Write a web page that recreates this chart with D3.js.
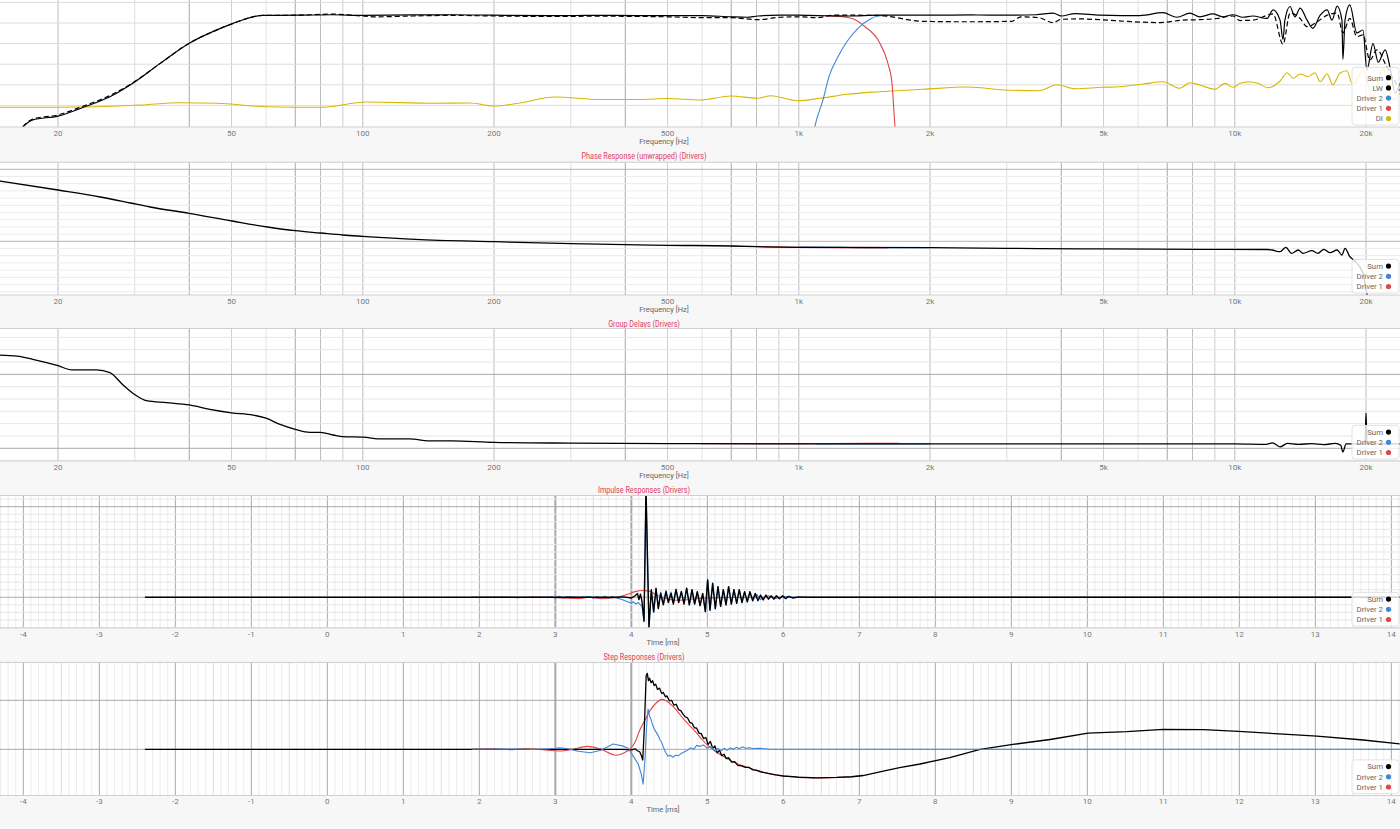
<!DOCTYPE html>
<html>
<head>
<meta charset="utf-8">
<script src="https://cdn.jsdelivr.net/npm/d3@7"></script>
<style>
  body { margin: 0; background: #f7f7f7; font-family: Roboto, "Noto Sans", sans-serif; }
</style>
</head>
<body>
<div id="chart"></div>
<script>
// ---- data (frequency in Hz, time in ms) ----
const freqTicks = [20, 50, 100, 200, 500, 1000, 2000, 5000, 10000, 20000];
const timeTicks = [-4, -3, -2, -1, 0, 1, 2, 3, 4, 5, 6, 7, 8, 9, 10, 11, 12, 13, 14];
const titles = ["Phase Response (unwrapped) (Drivers)", "Group Delays (Drivers)",
  "Impulse Responses (Drivers)", "Step Responses (Drivers)"];

// magnitude [Hz, dB]
const sumMag = [[16.6, 59.8], [17.5, 61.5], [20, 62.4], [22.8, 64.5], [26.3, 67.1], [30.1, 70.8],
  [34.3, 75.2], [40, 80.1], [45.3, 82.9], [50.4, 84.9], [56, 86.5], [59, 86.85], [72, 86.9],
  [85, 87.0], [100, 86.85], [130, 86.95], [160, 87.0], [200, 86.9], [270, 86.8], [350, 86.85],
  [430, 86.8], [500, 86.8], [600, 86.8], [700, 86.5], [760, 86.4], [806, 86.7], [905, 86.9],
  [1000, 86.9], [1100, 86.8], [1200, 86.75], [1300, 86.7], [1530, 86.9], [2000, 86.9],
  [2500, 86.95], [3000, 86.9], [3500, 87.0], [3830, 87.4], [4000, 86.7], [4300, 87.3],
  [4900, 86.9], [5500, 86.8], [6060, 86.8], [6840, 87.5], [7370, 86.4], [7890, 87.4],
  [8310, 86.5], [8910, 87.2], [9390, 86.5], [9900, 87.0], [10440, 86.4], [11000, 86.7],
  [11850, 86.1], [12240, 88.2], [12700, 85.7], [12900, 81.0], [13030, 85.7], [13390, 89.0],
  [13740, 86.5], [14120, 88.6], [14650, 85.7], [15100, 83.7], [15700, 86.9], [16290, 88.2],
  [16710, 85.7], [17170, 89.1], [17610, 85.7], [17700, 76.2], [17900, 85.7], [18360, 89.4],
  [19050, 82.6], [19680, 83.3], [20090, 73.6], [20750, 80.0], [21330, 75.5], [22130, 78.5],
  [22690, 74.3], [23330, 68.0], [23930, 70.4]];
const lwMag = [[16.6, 59.8], [17.5, 61.7], [20, 62.7], [22.8, 64.8], [26.3, 67.4], [30.1, 70.9],
  [34.3, 75.2], [40, 80.1], [45.3, 82.9], [50.4, 84.9], [56, 86.5], [59, 86.85], [72, 86.9],
  [80, 87.1], [85, 87.15], [100, 86.7], [108, 86.5], [130, 86.7], [160, 86.85], [200, 86.7],
  [270, 86.6], [350, 86.65], [430, 86.6], [500, 86.5], [600, 86.3], [700, 86.3], [806, 85.8],
  [905, 86.4], [1000, 86.5], [1100, 86.3], [1200, 86.9], [1300, 86.9], [1530, 86.8],
  [1930, 85.4], [2440, 85.3], [3080, 85.4], [3230, 86.5], [3550, 86.3], [3830, 85.1],
  [4000, 85.9], [4415, 86.0], [4900, 85.8], [5840, 85.3], [6740, 85.1], [7600, 85.7],
  [8300, 85.8], [9100, 86.1], [9900, 86.7], [10280, 85.6], [11000, 85.7], [12240, 87.2],
  [12900, 79.8], [13390, 87.4], [14120, 86.1], [14650, 84.1], [15450, 85.3], [16290, 86.9],
  [17170, 87.4], [17700, 82.6], [18360, 86.1], [19050, 81.7], [19680, 82.1], [20410, 76.0],
  [21180, 78.5], [22330, 74.3], [23930, 68.5]];
const driver1Mag = [[1150, 86.7], [1230, 86.6], [1324, 86.1],
  [1419, 84.1], [1527, 80.5], [1601, 75.2], [1636, 70.4], [1662, 60.0], [1680, 56.0]];
const driver2Mag = [[1075, 57.0], [1089, 60.0], [1136, 66.3], [1173, 72.0], [1230, 76.8],
  [1290, 80.5], [1367, 83.7], [1456, 85.9], [1527, 86.75], [1600, 86.8]];
// directivity index [Hz, dB]
const diMag = [[14.72, 0.05], [20, 0.05], [30.9, 0.6], [38.1, 1.17], [46.3, 1.02], [60.3, 0.19],
  [79.8, 0.05], [102, 1.33], [145, 1.02], [176, 1.09], [200, 0.36], [229, 1.09], [276, 2.55],
  [350, 1.94], [432, 1.94], [500, 2.18], [594, 1.82], [699, 2.79], [806, 2.23], [863, 2.86],
  [995, 1.65], [1119, 2.23], [1290, 3.2], [1527, 3.83], [1927, 4.42], [2444, 4.98],
  [2956, 4.25], [3555, 4.08], [3910, 5.53], [4301, 4.56], [4960, 4.9], [5455, 5.05],
  [6161, 5.7], [6839, 6.26], [7481, 4.66], [7887, 6.02], [8315, 5.46], [9004, 4.42],
  [9500, 5.87], [9907, 4.9], [10277, 5.87], [10827, 6.26], [11296, 5.87], [11910, 4.81],
  [12703, 6.43], [13182, 8.45], [13612, 7.09], [14122, 8.13], [14720, 7.48], [15272, 8.45],
  [15699, 6.26], [16289, 8.13], [16785, 5.46], [17414, 8.3], [18067, 8.93], [18661, 5.46],
  [19675, 9.1], [20745, 2.62], [21873, 9.51], [23063, 1.82], [23928, 3.52]];

// phase [Hz, deg]
const sumPhase = [[14.72, 301.5], [20, 256.5], [25, 221.5], [29.3, 191.5], [32.5, 171.5],
  [40, 140], [50.2, 101.5], [60.5, 71.5], [70, 53], [80, 41.5], [90, 31.5], [100, 25],
  [132, 10], [200, -2], [300, -12], [400, -17], [500, -20], [700, -23.5], [800, -27],
  [1000, -30], [2000, -32], [3000, -35], [3600, -37], [5000, -38], [8300, -40], [11900, -41],
  [12170, -43.5], [12700, -52], [13100, -30], [13490, -60], [13980, -43.5], [14330, -60],
  [15030, -47], [15510, -60], [16010, -40], [16530, -57], [17170, -43.5], [17610, -68.5],
  [17900, -35], [18360, -77], [18830, -97], [19680, -160], [20090, -260], [20400, -310]];
const driver1Phase = [[700, -23.5], [1000, -30], [1400, -32.5], [1600, -33]];
const driver2Phase = [[1000, -29], [1300, -31], [1500, -32], [2000, -32]];

// group delay [Hz, ms]
const sumGd = [[14.72, 37.8], [16.1, 37.4], [17.5, 36.1], [20, 33.5], [21.5, 31.8], [24.5, 31.8],
  [26.3, 30.7], [28.2, 25.7], [30.1, 21.6], [31.9, 19.3], [35.5, 18.5], [40, 17.6], [44.6, 15.8],
  [50, 14.4], [56, 13.5], [60, 12.2], [64.6, 9.7], [70, 7.7], [75.7, 6.5], [80, 6.5], [85.6, 5.4],
  [90, 4.7], [100, 4.5], [111, 3.8], [128, 3.8], [142, 3.0], [160, 3.0], [200, 2.4], [300, 2.1],
  [500, 1.9], [1000, 1.8], [2000, 1.8], [5000, 1.8], [10000, 1.8], [11800, 1.6], [12200, 2.2],
  [12700, 0.6], [13200, 2.0], [14000, 1.6], [15000, 1.9], [16000, 1.5], [17000, 2.0],
  [17500, 1.2], [17700, -1.5], [18000, 1.8], [19000, 1.8], [19900, 1.8], [20000, 14.3],
  [20100, 1.8], [23930, 1.8]];
const driver1Gd = [[600, 1.9], [1000, 1.9], [1400, 2.0], [1700, 2.0]];
const driver2Gd = [[1100, 1.8], [1500, 1.8], [2000, 1.8]];

// impulse responses [ms, norm]
const sumImpulse = [[-2.4, 0], [3.8, 0], [3.9, 0.005], [4.0, -0.01], [4.05, 0.02], [4.08, 0.05],
  [4.1, -0.03], [4.12, 0.04], [4.14, -0.05], [4.167, -0.32], [4.193, 1.45], [4.232, -0.39],
  [4.263, 0.10], [4.294, -0.19], [4.325, 0.12], [4.355, -0.15], [4.386, 0.05], [4.421, -0.10],
  [4.456, 0.075], [4.487, -0.07], [4.522, 0.05], [4.553, -0.09], [4.588, 0.10], [4.623, -0.07],
  [4.658, 0.075], [4.693, -0.09], [4.728, 0.12], [4.763, -0.10], [4.798, 0.10], [4.833, -0.09],
  [4.868, 0.075], [4.904, -0.11], [4.939, 0.05], [4.974, -0.19], [5.004, 0.23], [5.035, -0.17],
  [5.07, 0.185], [5.105, -0.15], [5.14, 0.14], [5.175, -0.12], [5.21, 0.10], [5.246, -0.10],
  [5.28, 0.14], [5.316, -0.09], [5.35, 0.10], [5.386, -0.08], [5.42, 0.10], [5.456, -0.07],
  [5.49, 0.075], [5.526, -0.06], [5.56, 0.075], [5.596, -0.045], [5.63, 0.05], [5.666, -0.045],
  [5.70, 0.03], [5.735, -0.035], [5.77, 0.03], [5.805, -0.025], [5.84, 0.02], [5.875, -0.025],
  [5.91, 0.02], [5.95, -0.02], [5.99, 0.02], [6.03, -0.018], [6.07, 0.012], [6.13, -0.01],
  [6.2, 0.005], [6.3, 0], [14.11, 0]];
const driver2Impulse = [[1.9, 0], [2.9, 0], [2.95, 0.01], [3.0, -0.008], [3.05, 0.012], [3.1, -0.01],
  [3.15, 0.008], [3.3, 0], [3.45, 0.008], [3.5, -0.012], [3.55, 0.01], [3.6, -0.012], [3.65, 0.012],
  [3.7, -0.01], [3.75, 0.008], [3.8, -0.01], [3.85, -0.02], [3.9, -0.04], [3.95, -0.06],
  [4.0, -0.08], [4.03, -0.06], [4.06, -0.09], [4.09, -0.07], [4.12, -0.10], [4.14, -0.12],
  [4.167, -0.30], [4.193, 1.40], [4.232, -0.40], [4.263, 0.08], [4.294, -0.20], [4.325, 0.11],
  [4.355, -0.14], [4.386, 0.07], [4.421, -0.08], [4.456, 0.09], [4.487, -0.05], [4.522, 0.07],
  [4.553, -0.07], [4.588, 0.11], [4.623, -0.06], [4.658, 0.08], [4.693, -0.08], [4.728, 0.12],
  [4.763, -0.10], [4.798, 0.10], [4.833, -0.09], [4.868, 0.07], [4.904, -0.11], [4.939, 0.05],
  [4.974, -0.19], [5.004, 0.23], [5.035, -0.17], [5.07, 0.18], [5.105, -0.15], [5.14, 0.14],
  [5.175, -0.12], [5.21, 0.10], [5.246, -0.10], [5.28, 0.14], [5.316, -0.09], [5.35, 0.10],
  [5.386, -0.08], [5.42, 0.10], [5.456, -0.07], [5.49, 0.07], [5.526, -0.06], [5.56, 0.07],
  [5.6, -0.04], [5.65, 0.04], [5.7, -0.03], [5.8, 0.02], [5.9, -0.015], [6.0, 0.01], [6.2, 0],
  [14.11, 0]];
const driver1Impulse = [[1.9, 0], [2.3, 0.004], [2.5, -0.004], [2.7, 0.004], [2.9, 0], [3.1, -0.01],
  [3.3, -0.015], [3.45, 0], [3.6, -0.02], [3.75, -0.01], [3.85, 0.01], [3.95, 0.04], [4.05, 0.075],
  [4.15, 0.09], [4.22, 0.085], [4.3, 0.05], [4.4, 0.0], [4.5, -0.03], [4.6, -0.04], [4.7, -0.035],
  [4.85, -0.02], [5.0, -0.01], [5.2, -0.005], [5.5, 0], [14.11, 0]];

// step responses [ms, norm]
const sumStep = [[-2.4, 0], [3.9, 0], [4.0, -0.01], [4.05, 0.01], [4.08, -0.03], [4.11, -0.05],
  [4.13, -0.12], [4.15, -0.22], [4.17, 0.4], [4.195, 1.50], [4.21, 1.55], [4.225, 1.40],
  [4.24, 1.45], [4.26, 1.36], [4.28, 1.40], [4.30, 1.30], [4.32, 1.33], [4.345, 1.22],
  [4.37, 1.25], [4.40, 1.14], [4.42, 1.16], [4.45, 1.07], [4.47, 1.09], [4.50, 0.99],
  [4.53, 1.00], [4.56, 0.90], [4.59, 0.92], [4.62, 0.81], [4.65, 0.79], [4.68, 0.72],
  [4.71, 0.66], [4.74, 0.64], [4.77, 0.55], [4.80, 0.53], [4.83, 0.44], [4.86, 0.43],
  [4.89, 0.33], [4.92, 0.32], [4.95, 0.22], [4.98, 0.24], [5.01, 0.10], [5.04, 0.16],
  [5.07, 0.02], [5.10, 0.07], [5.13, -0.07], [5.16, -0.02], [5.19, -0.13], [5.22, -0.10],
  [5.25, -0.19], [5.28, -0.17], [5.32, -0.26], [5.36, -0.25], [5.40, -0.33], [5.45, -0.34],
  [5.50, -0.37], [5.55, -0.37], [5.60, -0.42], [5.65, -0.43], [5.70, -0.46], [5.80, -0.49],
  [5.90, -0.52], [6.0, -0.545], [6.2, -0.57], [6.45, -0.585], [6.7, -0.575], [6.9, -0.56],
  [7.05, -0.535], [7.3, -0.45], [7.53, -0.375], [7.8, -0.30], [8.19, -0.17], [8.59, 0.0],
  [9.02, 0.10], [9.51, 0.20], [10.01, 0.33], [10.52, 0.36], [11.0, 0.405], [11.53, 0.40],
  [12.05, 0.36], [12.58, 0.31], [13.02, 0.27], [13.63, 0.19], [14.11, 0.11]];
const driver1Step = [[1.9, 0], [2.2, 0.01], [2.4, -0.01], [2.6, 0.012], [2.75, 0], [2.9, -0.02],
  [3.05, -0.035], [3.2, -0.01], [3.42, 0.06], [3.6, 0.0], [3.8, -0.12], [3.92, -0.06],
  [3.98, 0.0], [4.05, 0.15], [4.11, 0.39], [4.18, 0.6], [4.25, 0.8], [4.33, 0.95], [4.4, 1.02],
  [4.47, 0.98], [4.55, 0.87], [4.62, 0.75], [4.68, 0.63], [4.77, 0.48], [4.86, 0.33],
  [4.93, 0.2], [5.0, 0.09], [5.07, 0.0], [5.13, -0.07], [5.24, -0.17], [5.35, -0.265],
  [5.46, -0.33], [5.57, -0.39], [5.68, -0.44], [5.79, -0.49], [6.0, -0.545], [6.2, -0.57],
  [6.45, -0.585], [6.7, -0.575], [6.9, -0.56], [7.05, -0.535]];
const driver2Step = [[1.9, 0], [2.5, 0.005], [2.7, -0.005], [2.9, 0.008], [3.0, 0.02], [3.05, 0.03],
  [3.15, 0.015], [3.3, -0.04], [3.46, -0.07], [3.6, -0.02], [3.76, 0.11], [3.88, 0.07],
  [3.96, 0.02], [4.03, -0.15], [4.09, -0.3], [4.13, -0.5], [4.155, -0.71], [4.18, -0.2],
  [4.2, 0.45], [4.22, 0.82], [4.24, 0.68], [4.26, 0.6], [4.28, 0.5], [4.3, 0.42], [4.33, 0.34],
  [4.36, 0.26], [4.38, 0.18], [4.40, 0.14], [4.42, 0.05], [4.45, -0.06], [4.48, -0.14],
  [4.51, -0.12], [4.55, -0.165], [4.58, -0.12], [4.62, -0.13], [4.66, -0.08], [4.7, -0.05],
  [4.74, -0.02], [4.78, 0.03], [4.82, 0.0], [4.86, 0.08], [4.9, 0.06], [4.95, 0.09], [5.0, 0.02],
  [5.05, 0.06], [5.1, -0.04], [5.14, 0.02], [5.18, -0.03], [5.22, 0.02], [5.26, -0.02],
  [5.3, 0.03], [5.34, 0.0], [5.38, 0.04], [5.42, 0.01], [5.46, 0.05], [5.5, 0.02], [5.55, 0.03],
  [5.6, 0.015], [5.7, 0.02], [5.82, 0.0], [14.11, 0]];

// ---- drawing ----
const W = 1400, H = 829;
const BLACK = "#000", BLUE = "#3f86d6", RED = "#e04646", GOLD = "#d9b600";
const titleColor = "#e03a5e";

const svg = d3.select("#chart").append("svg").attr("width", W).attr("height", H);
svg.append("rect").attr("width", W).attr("height", H).attr("fill", "#f7f7f7");

const xFreq = d3.scaleLog().domain([14.72, 23930]).range([0, W]);
const xTime = d3.scaleLinear().domain([-4.307, 14.114]).range([0, W]);

// vertical grid tones for log axes, by multiple within decade
const logShade = { 1: "#bdbdbd", 2: "#bdbdbd", 3: "#dedede", 4: "#a9a9a9", 5: "#d0d0d0",
  6: "#e3e3e3", 7: "#a9a9a9", 8: "#bcbcbc", 9: "#cccccc" };

function makePanel(i, top, bottom, xScale, yDomain) {
  const y = d3.scaleLinear().domain(yDomain).range([bottom, top]);
  const g = svg.append("g");
  const clipId = "clip" + i;
  svg.append("clipPath").attr("id", clipId)
    .append("rect").attr("x", 0).attr("y", top).attr("width", W).attr("height", bottom - top);
  g.append("rect").attr("x", 0).attr("y", top).attr("width", W).attr("height", bottom - top)
    .attr("fill", "#fff");
  const grid = g.append("g").attr("clip-path", `url(#${clipId})`);
  const plot = g.append("g").attr("clip-path", `url(#${clipId})`);
  return { g, grid, plot, y, x: xScale, top, bottom };
}

function hLines(p, values, color) {
  p.grid.selectAll(null).data(values).join("line")
    .attr("x1", 0).attr("x2", W)
    .attr("y1", (d) => p.y(d)).attr("y2", (d) => p.y(d))
    .attr("stroke", color).attr("stroke-width", 1);
}

function freqGrid(p) {
  const lines = [];
  [10, 100, 1000, 10000].forEach((k) => {
    for (let m = 1; m <= 9; m++) {
      const f = m * k;
      if (f > 14.72 && f < 23930) lines.push({ f, m });
    }
  });
  p.grid.selectAll(null).data(lines).join("line")
    .attr("x1", (d) => p.x(d.f)).attr("x2", (d) => p.x(d.f))
    .attr("y1", p.top).attr("y2", p.bottom)
    .attr("stroke", (d) => logShade[d.m]).attr("stroke-width", 1);
  p.g.selectAll(null).data(freqTicks).join("text")
    .attr("x", (d) => p.x(d)).attr("y", p.bottom + 8.5)
    .attr("text-anchor", "middle").attr("font-size", "8px").attr("fill", "#777")
    .text((d) => (d >= 1000 ? d / 1000 + "k" : d));
  p.g.append("text").attr("x", 664).attr("y", p.bottom + 16.5)
    .attr("text-anchor", "middle").attr("font-size", "7.5px").attr("fill", "#666")
    .text("Frequency [Hz]");
}

function timeGrid(p) {
  const minor = d3.range(-43, 142).map((d) => d / 10).filter((d) => Math.abs(d - Math.round(d)) > 1e-6);
  p.grid.selectAll(null).data(minor).join("line")
    .attr("x1", (d) => p.x(d)).attr("x2", (d) => p.x(d))
    .attr("y1", p.top).attr("y2", p.bottom)
    .attr("stroke", (d) => (Math.abs(d * 2 - Math.round(d * 2)) < 1e-6 ? "#dcdcdc" : "#ececec"));
  p.grid.selectAll(null).data(timeTicks).join("line")
    .attr("x1", (d) => p.x(d)).attr("x2", (d) => p.x(d))
    .attr("y1", p.top).attr("y2", p.bottom)
    .attr("stroke", "#a9a9a9")
    .attr("stroke-width", (d) => (d === 3 || d === 4 ? 2 : 1));
  p.g.selectAll(null).data(timeTicks).join("text")
    .attr("x", (d) => p.x(d)).attr("y", p.bottom + 8.5)
    .attr("text-anchor", "middle").attr("font-size", "8px").attr("fill", "#777")
    .text((d) => d);
  p.g.append("text").attr("x", 663).attr("y", p.bottom + 16.5)
    .attr("text-anchor", "middle").attr("font-size", "7.5px").attr("fill", "#666")
    .text("Time [ms]");
}

function frame(p) {
  p.g.append("line").attr("x1", 0).attr("x2", W).attr("y1", p.top + 0.5).attr("y2", p.top + 0.5)
    .attr("stroke", "#cfcfcf");
  p.g.append("line").attr("x1", 0).attr("x2", W).attr("y1", p.bottom).attr("y2", p.bottom)
    .attr("stroke", "#cfcfcf");
}

function trace(p, data, color, opts = {}) {
  const ys = opts.y || p.y;
  const line = d3.line()
    .x((d) => p.x(d[0])).y((d) => ys(d[1]))
    .curve(opts.curve || d3.curveMonotoneX);
  p.plot.append("path").datum(data)
    .attr("d", line).attr("fill", "none")
    .attr("stroke", color).attr("stroke-width", opts.width || 1.2)
    .attr("stroke-dasharray", opts.dash || null)
    .attr("stroke-linejoin", "round");
}

function legend(p, items, padTop) {
  const step = 10.2;
  const boxH = padTop + (items.length - 1) * step + 6.5;
  const boxTop = p.bottom - 2 - boxH;
  const lg = p.g.append("g");
  lg.append("rect").attr("x", 1352).attr("y", boxTop).attr("width", 47).attr("height", boxH)
    .attr("rx", 3).attr("fill", "rgba(255,255,255,0.82)").attr("stroke", "#e2e2e2");
  const row = lg.selectAll(null).data(items).join("g")
    .attr("transform", (d, k) => `translate(0,${boxTop + padTop + k * step})`);
  row.append("text").attr("x", 1383).attr("y", 2.8).attr("text-anchor", "end")
    .attr("font-size", "7.8px").attr("fill", "#666").text((d) => d.name);
  row.append("circle").attr("cx", 1388.5).attr("cy", 0).attr("r", 2.6).attr("fill", (d) => d.color);
}

function title(p, text) {
  const t = p.g.append("text").attr("x", 644).attr("y", p.bottom + 31.5)
    .attr("text-anchor", "middle").attr("font-size", "9.5px").attr("fill", titleColor).text(text);
  const w = t.node().getComputedTextLength();
  t.attr("textLength", w * 0.76).attr("lengthAdjust", "spacingAndGlyphs");
}

const drivers3 = [{ name: "Sum", color: BLACK }, { name: "Driver 2", color: BLUE }, { name: "Driver 1", color: RED }];

// Panel 1: magnitude
const p1 = makePanel(1, -6, 127, xFreq, [59.76, 92.04]);
const yDI = d3.scaleLinear().domain([-4.73, 27.55]).range([127, -6]);
freqGrid(p1);
hLines(p1, [65, 70, 75, 80, 85, 90], "#dcdcdc");
frame(p1);
trace(p1, diMag, GOLD, { y: yDI, width: 1.1 });
trace(p1, driver1Mag, RED, { width: 1.1 });
trace(p1, driver2Mag, BLUE, { width: 1.1 });
trace(p1, lwMag, BLACK, { dash: "5,3", width: 1.2 });
trace(p1, sumMag, BLACK, { width: 1.2 });
legend(p1, [{ name: "Sum", color: BLACK }, { name: "LW", color: BLACK },
  { name: "Driver 2", color: BLUE }, { name: "Driver 1", color: RED }, { name: "DI", color: GOLD }], 10.4);
title(p1, titles[0]);

// Panel 2: phase
const p2 = makePanel(2, 161.7, 295, xFreq, [-268.5, 398]);
freqGrid(p2);
hLines(p2, d3.range(-252, 397, 36).filter((d) => d !== 0 && d !== 360), "#ececec");
hLines(p2, [0, 360], "#b4b4b4");
frame(p2);
trace(p2, driver1Phase, RED);
trace(p2, driver2Phase, BLUE);
trace(p2, sumPhase, BLACK, { width: 1.3 });
legend(p2, drivers3, 6.7);
title(p2, titles[1]);

// Panel 3: group delay
const p3 = makePanel(3, 328, 461, xFreq, [-5.15, 48.8]);
freqGrid(p3);
hLines(p3, [-5, 5, 10, 15, 20, 25, 35, 40, 45], "#e6e6e6");
hLines(p3, [0, 30], "#a9a9a9");
frame(p3);
trace(p3, driver1Gd, RED);
trace(p3, driver2Gd, BLUE);
trace(p3, sumGd, BLACK, { width: 1.3 });
legend(p3, drivers3, 6.7);
title(p3, titles[2]);

// Panel 4: impulse
const p4 = makePanel(4, 495, 628, xTime, [-0.407, 1.355]);
timeGrid(p4);
hLines(p4, d3.range(-4, 14).map((d) => d / 10).filter((d) => d !== 0 && Math.abs(d - 1.2) > 1e-6), "#e6e6e6");
hLines(p4, [0, 1.2], "#a9a9a9");
frame(p4);
trace(p4, driver1Impulse, RED, { width: 1.1 });
trace(p4, driver2Impulse, BLUE, { width: 1.2, curve: d3.curveLinear });
trace(p4, sumImpulse, BLACK, { width: 1.4, curve: d3.curveLinear });
legend(p4, drivers3, 6.7);
title(p4, titles[3]);

// Panel 5: step
const p5 = makePanel(5, 662, 795.5, xTime, [-0.943, 1.782]);
timeGrid(p5);
hLines(p5, [0, 1], "#a9a9a9");
frame(p5);
trace(p5, driver1Step, RED, { width: 1.1 });
trace(p5, sumStep, BLACK, { width: 1.3, curve: d3.curveLinear });
trace(p5, driver2Step, BLUE, { width: 1.1, curve: d3.curveLinear });
legend(p5, drivers3, 6.7);
</script>
</body>
</html>
